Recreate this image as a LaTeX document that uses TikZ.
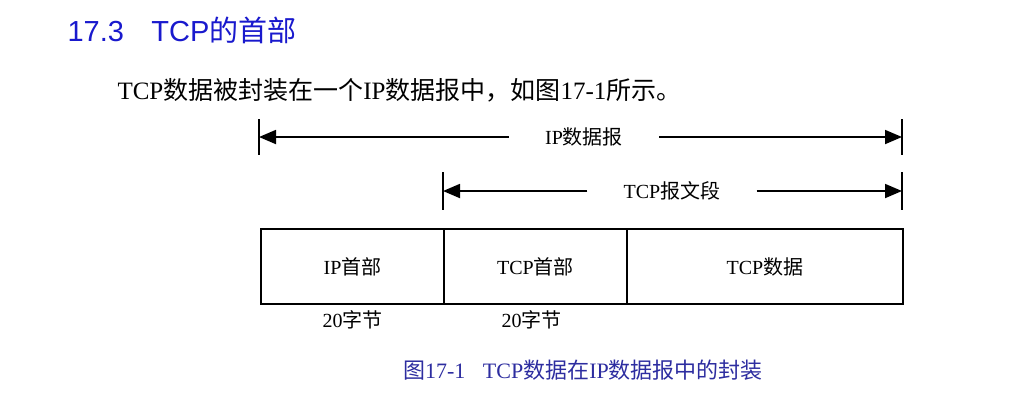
\documentclass[tikz,border=0pt]{standalone}
\usepackage{fontspec}
\setmainfont{Liberation Serif}
\newfontfamily\cjk{Noto Sans CJK SC}
\newfontfamily\hdfont{Liberation Sans}
\usetikzlibrary{arrows.meta,positioning}
\definecolor{headblue}{RGB}{25,25,205}
\definecolor{capblue}{RGB}{45,45,160}
\newcommand{\zh}[1]{{\cjk #1}}
\tikzset{
  field/.style={draw, line width=1.7pt, minimum height=75pt, inner sep=0pt,
                outer sep=0pt, font=\fontsize{20}{24}\selectfont},
  span/.style={line width=1.8pt, -{Triangle[length=17pt,width=14pt]}},
  spanlabel/.style={inner xsep=36pt, font=\fontsize{20}{24}\selectfont},
  tick/.style={line width=1.8pt},
  lenlabel/.style={font=\fontsize{20}{24}\selectfont}
}
\begin{document}
\begin{tikzpicture}[x=1pt, y=-1pt]
 \useasboundingbox (0,0) rectangle (1023,400);
 % heading and text
 \node[anchor=west, text=headblue, font=\hdfont\fontsize{29}{34}\selectfont]
      (sec) at (64,30) {17.3\hspace{0.95em}TCP\zh{的首部}};
 \node[anchor=west, font=\fontsize{25}{30}\selectfont]
      (intro) at (114,90) {TCP\zh{数据被封装在一个}IP\zh{数据报中，如图}17-1\zh{所示。}};
 % spans
 \coordinate (ipL) at (259,137);
 \coordinate (ipR) at (902,137);
 \node[spanlabel] (iplab) at (584,137) {IP\zh{数据报}};
 \draw[span] (iplab.west) -- (ipL);
 \draw[span] (iplab.east) -- (ipR);
 \draw[tick] (ipL) ++(0,-18) -- ++(0,36);
 \draw[tick] (ipR) ++(0,-18) -- ++(0,36);
 \coordinate (segL) at (443,191);
 \coordinate (segR) at (902,191);
 \node[spanlabel] (seglab) at (672,191) {TCP\zh{报文段}};
 \draw[span] (seglab.west) -- (segL);
 \draw[span] (seglab.east) -- (segR);
 \draw[tick] (segL) ++(0,-19) -- ++(0,38);
 \draw[tick] (segR) ++(0,-19) -- ++(0,38);
 % fields
 \node[field, minimum width=183pt, anchor=north west] (iphdr) at (261,229) {IP\zh{首部}};
 \node[field, minimum width=183pt, right=0pt of iphdr] (tcphdr) {TCP\zh{首部}};
 \node[field, minimum width=276pt, right=0pt of tcphdr] (tcpdata) {TCP\zh{数据}};
 \node[lenlabel, below=3pt of iphdr] (iplen) {20\zh{字节}};
 \node[lenlabel, below=3pt of tcphdr, xshift=-4pt] (tcplen) {20\zh{字节}};
 % caption
 \node[text=capblue, font=\fontsize{22}{26}\selectfont]
      (cap) at (583,370) {\zh{图}17-1\hspace{0.8em}TCP\zh{数据在}IP\zh{数据报中的封装}};
\end{tikzpicture}
\end{document}
